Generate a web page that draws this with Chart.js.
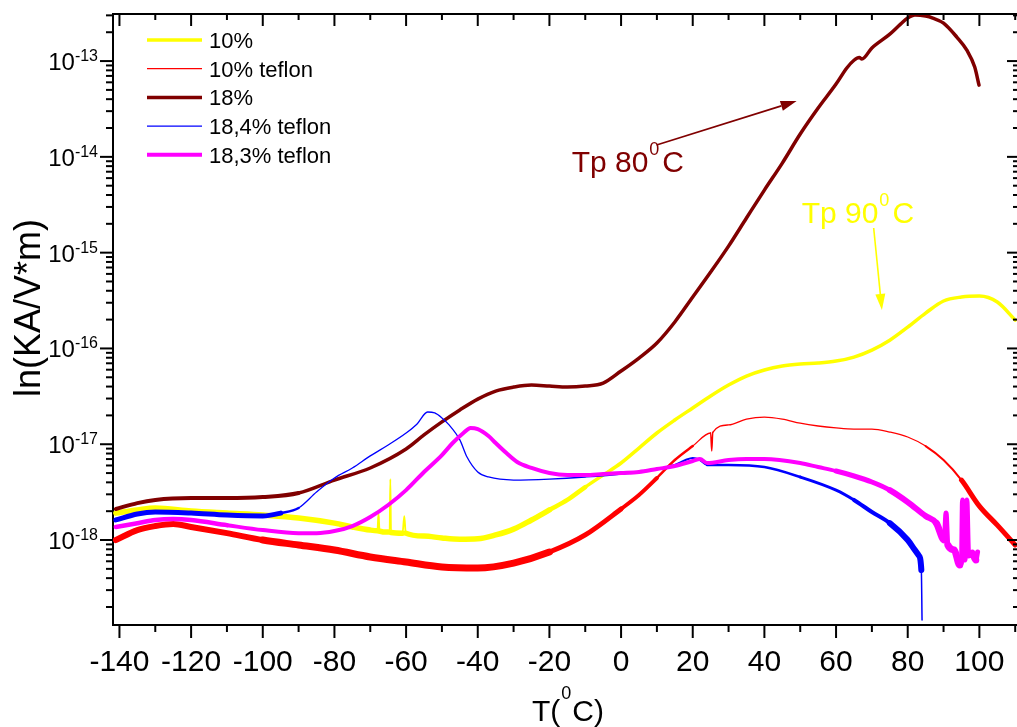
<!DOCTYPE html>
<html>
<head>
<meta charset="utf-8">
<title>TSDC</title>
<script src="https://cdn.jsdelivr.net/npm/chart.js@4.4.1/dist/chart.umd.min.js"></script>
<style>
  html, body { margin: 0; padding: 0; background: #fff; overflow: hidden; }
</style>
</head>
<body>
<canvas id="chart" width="1017" height="727"></canvas>
<script>
// Temperatura (grados C) y valor de cada muestra
const t10 = [-141, -135, -130, -120, -110, -100, -90, -80, -75, -70, -68, -67.7, -67.4, -65, -64.6, -64.4, -64.2, -61, -60.5, -60.1,
  -55, -50, -45, -40, -35, -30, -25, -20, -15, -10, -5, 0, 5, 10, 15, 20, 25, 30, 35, 40,
  45, 50, 55, 60, 65, 70, 75, 80, 85, 90, 95, 100, 105, 110];
const v10 = [1.91e-18, 2.06e-18, 2.16e-18, 2.01e-18, 1.91e-18, 1.82e-18, 1.70e-18, 1.50e-18, 1.37e-18, 1.27e-18,
  1.25e-18, 1.91e-18, 1.24e-18, 1.21e-18, 1.21e-18, 4.33e-18, 1.20e-18, 1.18e-18, 1.78e-18, 1.18e-18,
  1.10e-18, 1.05e-18, 1.02e-18, 1.03e-18, 1.13e-18, 1.30e-18, 1.62e-18, 2.06e-18, 2.62e-18, 3.57e-18,
  4.77e-18, 6.37e-18, 9.12e-18, 1.31e-17, 1.79e-17, 2.39e-17, 3.19e-17, 4.15e-17, 5.15e-17, 5.96e-17,
  6.55e-17, 6.87e-17, 7.04e-17, 7.38e-17, 8.13e-17, 9.62e-17, 1.22e-16, 1.67e-16, 2.34e-16, 3.13e-16,
  3.44e-16, 3.52e-16, 3.05e-16, 1.98e-16];

const t10Teflon = [-141, -135, -130, -125, -120, -110, -100, -90, -80, -70, -60, -50, -40, -30, -20, -10, 0, 5, 10, 15,
  20, 25, 25.3, 25.6, 30, 35, 40, 45, 50, 55, 60, 65, 70, 75, 80, 85, 90, 95, 100, 105, 110];
const v10Teflon = [1.00e-18, 1.27e-18, 1.40e-18, 1.47e-18, 1.37e-18, 1.18e-18, 1.00e-18, 8.87e-19, 7.86e-19, 6.65e-19,
  5.89e-19, 5.23e-19, 5.10e-19, 5.75e-19, 7.50e-19, 1.13e-18, 2.11e-18, 2.95e-18, 4.44e-18, 6.84e-18,
  9.57e-18, 1.31e-17, 8.50e-18, 1.33e-17, 1.59e-17, 1.83e-17, 1.92e-17, 1.83e-17, 1.66e-17, 1.55e-17,
  1.48e-17, 1.44e-17, 1.44e-17, 1.34e-17, 1.19e-17, 9.57e-18, 6.84e-18, 4.23e-18, 2.26e-18, 1.43e-18, 8.87e-19];

const t18 = [-141, -135, -130, -120, -110, -100, -90, -80, -70, -60, -55, -50, -45, -40, -35, -30, -25, -20, -15, -10,
  -5, 0, 5, 10, 15, 20, 25, 30, 35, 40, 45, 50, 55, 60, 63, 65, 66.5, 67.2, 70, 75,
  78, 80, 82, 85, 87, 90, 93.7, 96.5, 98.7, 99.9];
const v18 = [2.11e-18, 2.43e-18, 2.62e-18, 2.74e-18, 2.74e-18, 2.81e-18, 3.10e-18, 4.23e-18, 5.65e-18, 8.91e-18,
  1.25e-17, 1.71e-17, 2.28e-17, 2.96e-17, 3.59e-17, 3.95e-17, 4.15e-17, 4.05e-17, 3.95e-17, 4.05e-17,
  4.35e-17, 5.81e-17, 7.94e-17, 1.14e-16, 1.89e-16, 3.44e-16, 6.27e-16, 1.17e-15, 2.30e-15, 4.50e-15,
  8.61e-15, 1.73e-14, 3.23e-14, 5.75e-14, 8.46e-14, 1.02e-13, 1.09e-13, 1.05e-13, 1.37e-13, 1.91e-13,
  2.43e-13, 2.81e-13, 3.02e-13, 2.95e-13, 2.81e-13, 2.49e-13, 1.78e-13, 1.30e-13, 8.66e-14, 5.61e-14];

const t184Teflon = [-141, -135, -130, -120, -110, -100, -95, -90, -85, -80, -75, -70, -65, -60, -57, -54, -52, -50, -48, -45,
  -43, -40, -37, -30, -20, -10, 0, 10, 15, 18, 20, 22, 24, 30, 40, 50, 60, 65, 70, 75,
  80, 82, 83, 83.8, 84];
const v184Teflon = [1.62e-18, 1.87e-18, 1.96e-18, 1.91e-18, 1.82e-18, 1.78e-18, 1.91e-18, 2.16e-18, 3.17e-18, 4.44e-18,
  5.65e-18, 7.56e-18, 9.82e-18, 1.31e-17, 1.62e-17, 2.17e-17, 2.12e-17, 1.88e-17, 1.59e-17, 1.11e-17,
  7.35e-18, 5.13e-18, 4.55e-18, 4.23e-18, 4.33e-18, 4.55e-18, 4.89e-18, 5.51e-18, 6.07e-18, 6.84e-18,
  7.18e-18, 6.84e-18, 6.07e-18, 6.07e-18, 5.78e-18, 4.55e-18, 3.32e-18, 2.62e-18, 1.96e-18, 1.50e-18,
  1.00e-18, 7.86e-19, 6.97e-19, 4.86e-19, 1.46e-19];

const t183Teflon = [-141, -135, -130, -125, -120, -110, -100, -90, -85, -80, -75, -70, -65, -60, -55, -50, -47, -44, -42, -40,
  -37, -35, -32, -29, -25, -20, -15, -10, -5, 0, 5, 10, 15, 20, 22, 24, 30, 35, 40, 50,
  55, 60, 65, 70, 75, 80, 85, 88, 90.2, 90.7, 91.2, 93, 94.5, 95, 95.3, 96, 96.5, 97, 98, 99, 99.5];
const v183Teflon = [1.37e-18, 1.50e-18, 1.62e-18, 1.66e-18, 1.62e-18, 1.43e-18, 1.27e-18, 1.18e-18, 1.18e-18, 1.24e-18,
  1.40e-18, 1.74e-18, 2.32e-18, 3.32e-18, 5.13e-18, 7.71e-18, 1.03e-17, 1.31e-17, 1.48e-17, 1.44e-17,
  1.22e-17, 1.03e-17, 8.09e-18, 6.52e-18, 5.65e-18, 5.00e-18, 4.77e-18, 4.77e-18, 4.89e-18, 5.00e-18,
  5.13e-18, 5.51e-18, 5.92e-18, 6.68e-18, 7.01e-18, 6.37e-18, 6.84e-18, 7.01e-18, 7.01e-18, 6.37e-18,
  5.78e-18, 5.25e-18, 4.66e-18, 4.03e-18, 3.32e-18, 2.49e-18, 1.78e-18, 1.50e-18, 1.00e-18, 1.91e-18,
  8.87e-19, 7.86e-19, 5.48e-19, 5.75e-19, 2.62e-18, 6.18e-19, 2.62e-18, 6.97e-19, 7.30e-19, 6.18e-19, 7.50e-19];

// Etiquetas de los ejes
const xEtiquetas = [-140, -120, -100, -80, -60, -40, -20, 0, 20, 40, 60, 80, 100];
const yDecadas = [-18, -17, -16, -15, -14, -13];

const FUENTE = '"Liberation Sans", Arial, sans-serif';
const puntos = (ts, vs) => ts.map((t, i) => ({ x: t, y: vs[i] }));

// grosor del trazo por tramos de temperatura (zonas con ruido mas anchas);
// los picos casi verticales usan su propio grosor
const grosor = (bandas, pico) => ctx => {
  if (Math.abs(ctx.p1.x - ctx.p0.x) < 2.6) return pico;
  const t = (ctx.p0.parsed.x + ctx.p1.parsed.x) / 2;
  let w = bandas[0][1];
  for (const [desde, ancho] of bandas) if (t >= desde) w = ancho;
  return w;
};

const serie = (label, data, color, ancho, orden, bandas, pico) => ({
  label, data, borderColor: color, backgroundColor: color, borderWidth: ancho, order: orden,
  pointRadius: 0, cubicInterpolationMode: 'monotone', fill: false,
  borderJoinStyle: 'round', borderCapStyle: 'round',
  segment: { borderWidth: grosor(bandas, pico) }
});

const data = {
  datasets: [
    serie('10%', puntos(t10, v10), '#ffff00', 3.5, 4, [[-999, 5.5], [-22, 4.5], [-8, 3.5]], 1.8),
    serie('10% teflon', puntos(t10Teflon, v10Teflon), '#ff0000', 1.3, 5,
      [[-999, 6], [-100, 7], [-20, 5], [0, 4], [10, 2.5], [18, 1.3], [85, 2], [93, 5]], 1.5),
    serie('18%', puntos(t18, v18), '#800000', 3.5, 3, [[-999, 4], [-90, 3.5]], 3.5),
    serie('18,4% teflon', puntos(t184Teflon, v184Teflon), '#0000ff', 1.3, 2,
      [[-999, 5], [-95, 2.5], [-88, 1.3], [5, 2], [25, 2.5], [50, 3], [65, 4], [75, 6]], 1.5),
    serie('18,3% teflon', puntos(t183Teflon, v183Teflon), '#ff00ff', 4, 1,
      [[-999, 4.5], [-110, 4], [60, 5], [75, 6], [88, 7]], 5)
  ]
};

// Anotaciones en coordenadas de datos (T, valor)
const anotaciones = [
  { texto: 'Tp 80', color: '#800000', t: -13.8, v: 6.93e-15, desde: [9.9, 1.33e-14], hasta: [49.0, 3.82e-14] },
  { texto: 'Tp 90', color: '#ffff00', t: 50.4, v: 2.04e-15, desde: [70.5, 1.81e-15], hasta: [72.8, 2.52e-16] }
];

// Texto con superindice: base, exponente y resto
function textoSup(ctx, x, y, antes, sup, despues, tam, tamSup, subida, hueco) {
  ctx.textAlign = 'left';
  ctx.font = tam + 'px ' + FUENTE;
  ctx.fillText(antes, x, y);
  x += ctx.measureText(antes).width + 1;
  ctx.font = tamSup + 'px ' + FUENTE;
  ctx.fillText(sup, x, y - subida);
  x += ctx.measureText(sup).width + hueco;
  ctx.font = tam + 'px ' + FUENTE;
  ctx.fillText(despues, x, y);
}

const ejes = {
  id: 'ejes',
  afterDatasetsDraw(chart) {
    const { ctx, chartArea: a, scales: { x, y } } = chart;
    ctx.save();
    ctx.strokeStyle = '#000';
    ctx.fillStyle = '#000';
    ctx.lineWidth = 2;
    ctx.textBaseline = 'alphabetic';
    const linea = (x1, y1, x2, y2) => { ctx.beginPath(); ctx.moveTo(x1, y1); ctx.lineTo(x2, y2); ctx.stroke(); };

    // marco superior
    linea(a.left - 1, a.top, a.right + 3, a.top);

    // eje X: marcas abajo hacia fuera y arriba hacia dentro
    ctx.font = '30px ' + FUENTE;
    ctx.textAlign = 'center';
    x.ticks.forEach(tk => {
      const v = Math.round(tk.value);
      const px = x.getPixelForValue(v);
      const mayor = xEtiquetas.includes(v);
      linea(px, a.bottom, px, a.bottom + (mayor ? 13 : 7));
      linea(px, a.top, px, a.top + (mayor ? 12 : 6));
      if (mayor) ctx.fillText(String(v), px, a.bottom + 46);
    });

    // eje Y logaritmico: decadas y subdivisiones 2..9
    const eMin = Math.floor(Math.log10(y.min));
    const eMax = Math.ceil(Math.log10(y.max));
    for (let e = eMin; e <= eMax; e++) {
      for (let m = 1; m <= 9; m++) {
        const v = m * Math.pow(10, e);
        if (v < y.min || v > y.max) continue;
        const py = y.getPixelForValue(v);
        linea(a.left, py, a.left - (m === 1 ? 13 : 7), py);
        linea(a.right + 2, py, a.right + 2 - (m === 1 ? 12 : 6), py);
      }
    }
    yDecadas.forEach(e => {
      const py = y.getPixelForValue(Math.pow(10, e));
      const exp = String(e);
      ctx.textAlign = 'right';
      ctx.font = '16px ' + FUENTE;
      ctx.fillText(exp, a.left - 15, py);
      const w = ctx.measureText(exp).width;
      ctx.font = '24px ' + FUENTE;
      ctx.fillText('10', a.left - 15 - w, py + 9);
    });

    // titulos de los ejes
    textoSup(ctx, 532, 721, 'T(', '0', 'C)', 30, 18, 22, 1);
    ctx.save();
    ctx.translate(40, 308);
    ctx.rotate(-Math.PI / 2);
    ctx.textAlign = 'center';
    ctx.font = '36px ' + FUENTE;
    ctx.fillText('ln(KA/V*m)', 0, 0);
    ctx.restore();

    // leyenda
    chart.data.datasets.forEach((ds, i) => {
      const ly = 40 + i * 28.7;
      ctx.strokeStyle = ds.borderColor;
      ctx.lineWidth = ds.borderWidth;
      ctx.lineCap = 'butt';
      linea(147, ly, 202, ly);
      ctx.fillStyle = '#000';
      ctx.textAlign = 'left';
      ctx.font = '22px ' + FUENTE;
      ctx.fillText(ds.label, 209, ly + 8);
    });

    // flechas y textos de los picos
    anotaciones.forEach(an => {
      const tx = x.getPixelForValue(an.t), ty = y.getPixelForValue(an.v);
      ctx.fillStyle = an.color;
      textoSup(ctx, tx, ty, an.texto, '0', 'C', 30, 18, 17, 3);
      const x1 = x.getPixelForValue(an.desde[0]), y1 = y.getPixelForValue(an.desde[1]);
      const x2 = x.getPixelForValue(an.hasta[0]), y2 = y.getPixelForValue(an.hasta[1]);
      const ang = Math.atan2(y2 - y1, x2 - x1);
      const largo = 16, medio = 5;
      const bx = x2 - largo * Math.cos(ang), by = y2 - largo * Math.sin(ang);
      ctx.strokeStyle = an.color;
      ctx.lineWidth = 1.6;
      linea(x1, y1, bx, by);
      ctx.beginPath();
      ctx.moveTo(x2, y2);
      ctx.lineTo(bx + medio * Math.sin(ang), by - medio * Math.cos(ang));
      ctx.lineTo(bx - medio * Math.sin(ang), by + medio * Math.cos(ang));
      ctx.closePath();
      ctx.fill();
    });
    ctx.restore();
  }
};

const config = {
  type: 'line',
  data: data,
  options: {
    responsive: false,
    animation: false,
    layout: { padding: { top: 14, right: 0, left: 0, bottom: 0 } },
    plugins: { legend: { display: false }, tooltip: { enabled: false } },
    scales: {
      x: {
        type: 'linear',
        min: -141.8,
        max: 110.5,
        grid: { display: false },
        border: { display: true, color: '#000', width: 2 },
        ticks: { display: false, stepSize: 10, includeBounds: false },
        afterFit: scale => { scale.height = 102; }
      },
      y: {
        type: 'logarithmic',
        min: 1.297e-19,
        max: 3.10e-13,
        grid: { display: false },
        border: { display: true, color: '#000', width: 2 },
        ticks: { display: false },
        afterFit: scale => { scale.width = 113; }
      }
    }
  },
  plugins: [ejes]
};

const chart = new Chart(document.getElementById('chart').getContext('2d'), config);
</script>
</body>
</html>
